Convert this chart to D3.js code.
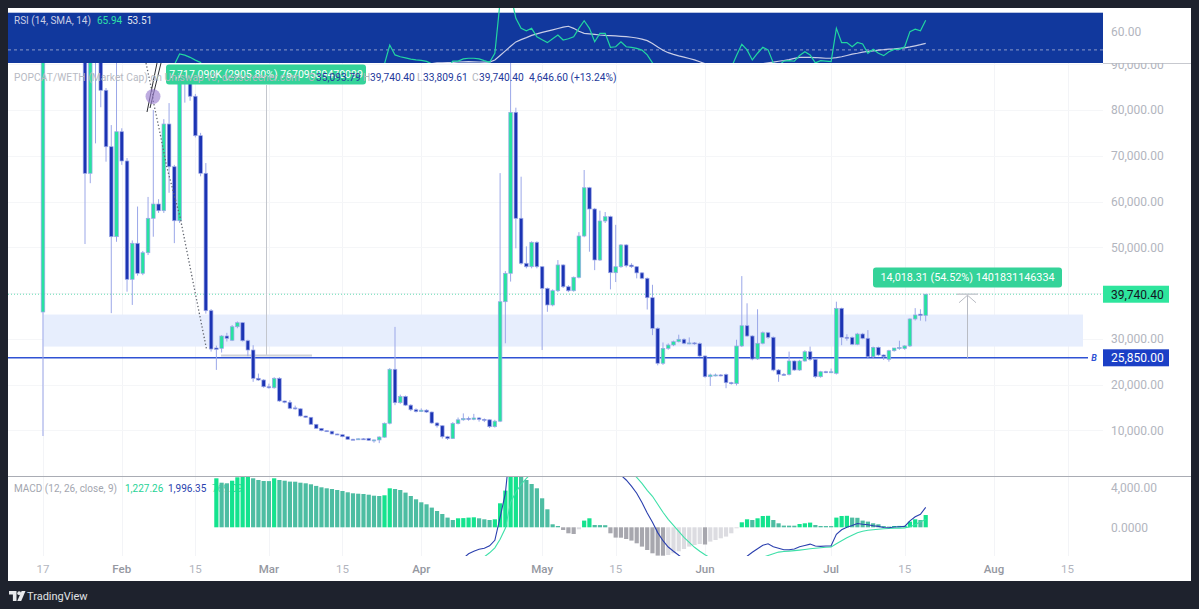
<!DOCTYPE html>
<html><head><meta charset="utf-8">
<script src="https://cdn.jsdelivr.net/npm/d3@7"></script>
<style>
body{margin:0;background:#1e222d;overflow:hidden}
svg{display:block}
text{font-family:Roboto,"Noto Sans",sans-serif}
</style></head>
<body><svg id="c" width="1199" height="609"></svg>
<script>
// ---------------- DATA ----------------
const opens = [
35860,105000,125000,118000,130000,140000,120000,110000,100000,66160,
95000,98000,84300,71970,52310,75250,68850,43000,50870,44310,
48810,56330,59450,57990,76930,67600,55800,86000,88000,83000,
74380,66160,36140,28000,27920,30610,29680,32640,33520,29580,
27550,21370,21000,19530,19300,21370,16410,16130,14900,14700,
13130,12850,11320,10440,9920,9800,9200,9050,8610,8050,
8000,8150,8250,7820,7900,8500,11540,23340,16040,17400,
15500,14500,14100,14400,14000,11600,11000,8600,8200,11500,
12300,12600,12400,12700,12400,12300,10800,12000,38100,44310,
79490,56330,46500,45750,51090,45750,41030,37390,40510,46130,
41380,40500,43440,52460,63010,58360,47220,55740,56680,44440,
45750,50500,46100,45750,44400,43220,38980,32290,24650,27920,
28650,29370,29890,29020,29100,28950,26240,21720,22000,22100,
22200,20410,20200,28430,32860,30610,25590,29020,31330,30330,
23180,22240,22200,25150,23180,25150,27180,25520,21720,22810,
22700,22460,36660,30330,30300,28800,31050,30110,26090,28140,
26460,25520,27400,27990,27860,28450,34330,35380,35093.79];
const closes = [
105000,125000,118000,130000,140000,120000,110000,100000,66160,95000,
98000,84300,71970,52310,75250,68850,43000,50870,44310,48810,
56330,59450,57990,76930,67600,55800,86000,88000,83000,74380,
66160,36140,27770,27700,30610,30110,32640,33520,29580,27550,
21370,21000,19530,19300,21370,16410,16130,14810,14700,13130,
12850,11320,10440,9920,9800,9200,9050,8610,8040,8000,
8150,8100,7820,7900,8540,11540,23340,16040,17400,15500,
14500,14100,14400,14000,11600,11000,8600,8200,11500,12300,
12600,12400,12700,12400,12300,10800,12000,38100,44310,79490,
56330,46500,45750,51090,45750,41030,37390,40510,46130,41380,
40500,43440,52460,63010,58360,47220,55740,56680,44440,45750,
50500,45970,45750,44400,43220,38980,32290,24650,27920,28650,
29370,29890,29020,29100,28950,26240,21720,22100,22100,22000,
20410,20200,28430,32860,30610,25590,29020,31330,30330,23180,
22240,22200,25150,23180,25150,27180,25520,21720,22810,22700,
22800,36660,30330,30200,28800,31050,30110,26090,28140,26460,
26100,27400,27990,28100,28450,34330,35200,35093.79,39740.40];
const highs = [
120000,140000,150000,135000,160000,150000,130000,125000,105000,100000,
102000,100000,84800,76700,92000,76000,69500,51500,58900,49200,
61000,80000,60500,78000,81500,68000,88000,89500,89000,83500,
75000,68400,36500,28500,30800,31300,33000,33800,33600,29800,
28600,22400,21200,20200,21600,21600,16500,16600,15400,14800,
13200,12900,11400,10500,10000,9900,9300,9100,8700,8150,
8250,8300,8350,8000,8700,11700,23600,32600,17800,17600,
15700,14800,14800,14600,14100,11800,11100,8800,11800,12800,
13700,13000,13600,12900,12600,12400,12300,66200,44800,92000,
80500,65420,50200,51300,51300,45900,41200,40800,47200,46300,
41700,43600,53300,66880,63200,58600,58000,57700,56900,54900,
50700,50700,46500,45900,44600,43400,41800,32500,29200,29000,
29600,30900,30100,30300,29300,29200,26400,22400,22400,22300,
22400,20600,29800,43700,37760,30800,36450,31600,31500,30500,
23400,22500,27200,25300,25400,27500,28300,25700,23000,23000,
23500,38110,36800,31000,30500,31300,31300,31900,28300,28300,
26600,27600,28000,29580,28600,34500,36700,36450,39740.40];
const lows = [
8760,98000,110000,100000,120000,115000,100000,95000,50710,64000,
72700,80600,68700,35600,51200,68000,40300,37400,43800,43900,
48300,52300,57500,57500,61900,50900,55300,81600,82000,74000,
65500,35500,27200,23200,27000,29400,29500,32300,29400,26200,
20600,20800,19300,19100,19100,16200,15900,14600,14500,13000,
12700,11200,10300,9800,9700,9100,8950,8500,7950,7900,
7950,8000,7700,7300,7200,8400,11300,15500,15800,15300,
14200,13900,14000,13800,11400,10600,8200,7900,8100,11300,
12100,12100,12200,11900,11800,10500,10600,11800,29020,42500,
49770,46200,45400,45400,45400,27550,35900,37100,40200,41100,
40200,40300,43200,52200,49030,45000,47000,55300,40800,42400,
45500,45600,45500,43200,43000,36400,30800,24200,24300,27600,
28400,29200,28800,28800,28700,26000,21500,19700,21800,21800,
19200,20000,19800,28200,30400,25300,25400,28800,30000,22900,
20600,22000,22000,23000,23000,25000,25200,21400,21500,22500,
22500,22200,28600,29600,28600,28600,29900,25800,25800,26200,
25390,25000,27200,27600,27600,28200,34000,33960,33809.61];

const rsiValues = [
null,null,null,null,null,null,null,null,null,null,
null,null,null,null,null,null,null,null,null,null,
null,null,null,38,40,42,47.8,47.2,46,44.5,
43.2,38,35,null,null,null,null,null,null,null,
null,null,null,null,null,null,null,null,null,null,
null,null,null,null,null,null,null,null,null,null,
null,null,null,null,38,42.5,52.6,47.3,46.3,45.7,
45,44.6,44.4,43.8,42.5,41,39,40,44,44,
45.2,45.5,45.5,45.2,44.2,43.3,48.2,76,79,80,
67,61.6,60.3,61.6,57.1,55.5,53.9,56,58,55.3,
56,57.1,61.6,65.7,61.6,54.4,58.9,58.9,51.4,51.7,
54.4,51.7,51.4,50.8,49.9,47.3,43,39,null,null,
null,null,null,null,null,null,null,null,null,null,
null,40.5,47,53,50,44.6,48.2,51.4,50,43,
41.5,44,44.2,43.9,47,49,47.3,43,44.2,44,
43.7,61.6,53.9,53.9,51.7,54,53.2,48.2,50.3,48.2,
46.9,49,50.3,50.3,51.7,59.8,61.1,60.3,65.94];
const rsiSmaValues = [
null,null,null,null,null,null,null,null,null,null,
null,null,null,null,null,null,null,null,null,null,
null,null,null,null,null,null,null,null,null,null,
null,null,null,null,null,null,null,null,null,null,
null,null,null,null,null,null,null,null,null,null,
null,null,null,null,null,null,null,null,null,null,
null,null,null,null,null,null,null,null,null,null,
null,null,null,41.5,42.6,43.0,43.1,43.2,43.3,43.5,
43.6,43.7,43.6,43.5,43.4,43.4,44.6,47.0,49.5,52.0,
54.3,55.5,56.6,57.8,58.6,59.4,60.1,60.8,61.5,62.2,
62.7,61.6,60.0,58.9,58.6,58.3,58.0,57.8,57.7,57.5,
57.3,57.1,56.8,56.4,55.8,55.0,53.5,51.5,49.8,48.5,
47.6,46.8,46.1,45.4,44.6,43.6,42.6,41.8,null,null,
null,null,null,null,null,null,42.0,42.6,43.1,43.4,
43.9,44.3,44.8,45.4,46.0,46.0,46.0,45.9,45.7,45.5,
45.5,45.8,46.3,47.0,47.7,48.2,48.8,49.2,49.5,49.9,
50.1,50.4,50.6,50.9,51.1,51.6,52.2,52.8,53.51];

const histStart = 33;
const macdHist = [
4900,4460,4400,4660,5000,5300,5350,4900,4730,4630,
4620,4900,4730,4660,4570,4560,4460,4400,4300,4140,
4000,3900,3830,3730,3630,3500,3400,3360,3330,3260,
3160,3130,3200,3900,3830,3730,3470,3130,2800,2500,
2300,1970,1630,1330,970,730,900,920,970,1000,
900,800,730,800,2400,3670,6000,7200,6800,4730,
4330,3900,2900,1800,300,130,-270,-600,-670,-200,
670,900,230,220,210,-600,-1030,-1040,-1170,-1330,
-1600,-1930,-2270,-2600,-2830,-2840,-2770,-2600,-2400,-2170,
-1930,-1770,-1670,-1720,-1430,-1270,-1100,-930,-600,-100,
500,800,730,900,1130,1150,730,400,170,165,
160,330,400,470,230,130,125,120,970,1130,
1150,970,950,670,570,400,300,130,70,130,
140,150,570,800,730,1227.26];
const lineStart = 79;
const macdLine = [
-3600,-3100,-2650,-2400,-2200,-2100,-1850,-1300,1000,3400,
8500,10500,11100,9600,9700,9800,9200,8500,7600,7300,
7000,6700,6600,6900,7700,8000,7300,7200,7100,6100,
5470,5210,4730,4120,3400,2470,1430,500,-530,-1340,
-1970,-2400,-2800,-3170,-3430,-3800,-4000,-4300,-4300,-4400,
-4300,-4200,-4300,-3800,-3200,-2900,-2500,-2150,-1800,-1650,
-1950,-2100,-2250,-2250,-2170,-1950,-1820,-1680,-1870,-1910,
-1875,-1840,-700,-250,0,180,380,300,260,150,
90,-20,-50,30,60,90,650,1050,1300,1996.35];
const signalLine = [
-4300,-4000,-3650,-3400,-3100,-2950,-2550,-2050,-1200,-100,
2500,3500,4300,4900,5400,5900,6300,6600,6800,6900,
7000,7050,7100,7100,7100,7100,7050,7000,6900,6700,
6500,6250,5900,5450,5000,4400,3700,3100,2300,1500,
800,200,-400,-1000,-1500,-2000,-2400,-2750,-3050,-3300,
-3500,-3600,-3700,-3700,-3700,-3700,-3450,-3150,-3000,-2820,
-2650,-2480,-2420,-2380,-2330,-2280,-2220,-2150,-2100,-2040,
-2000,-1960,-1650,-1350,-1050,-800,-550,-400,-300,-250,
-200,-150,-120,-100,-80,-60,50,250,550,769.09];

const priceTicks = [10000,20000,30000,40000,50000,60000,70000,80000,90000];
const timeTickIdx = [0,15,29,43,57,72,95,109,126,150,164,181,195];
const timeTickLabels = ["17","Feb","15","Mar","15","Apr","May","15","Jun","Jul","15","Aug","15"];
const timeTickMonth = [false,true,false,true,false,true,true,false,true,true,false,true,false];
const lastPrice = 39740.40, levelB = 25850;
const zoneLow = 28300, zoneHigh = 35300;

// ---------------- LAYOUT ----------------
const PL = 8, PR = 1103, AR = 1191;
const rsiTop = 8, rsiBot = 63, pTop = 63, pBot = 476, mTop = 476, mBot = 556, cBot = 581;
const N = closes.length;
const x = d3.scaleLinear().domain([0, N - 1]).range([42.97, 925.7]);
const yP = d3.scaleLinear().domain([0, 90000]).range([476.1, 64.2]);
const yR = d3.scaleLinear().domain([50, 70]).range([49.9, 12.7]);
const yM = d3.scaleLinear().domain([0, 4000]).range([527.3, 487.3]);

const UP = "#27e3a0", DOWN = "#1c34b3", WICK = "#9ba7e8";
const AXC = "#b2b5be";

const svg = d3.select("#c");
svg.append("rect").attr("width", 1199).attr("height", 609).attr("fill", "#1e222d");
svg.append("rect").attr("x", PL).attr("y", 8).attr("width", AR - PL).attr("height", cBot - 8).attr("fill", "#ffffff");

const defs = svg.append("defs");
function clip(id, x0, y0, x1, y1) {
  defs.append("clipPath").attr("id", id).append("rect").attr("x", x0).attr("y", y0).attr("width", x1 - x0).attr("height", y1 - y0);
}
clip("cR", PL, rsiTop, PR, rsiBot);
clip("cP", PL, pTop, PR, pBot);
clip("cM", PL, mTop, PR, mBot);
clip("cPA", PR, pTop, AR, pBot);

// ---------------- GRID ----------------
const grid = svg.append("g");
grid.selectAll("line.vg").data(timeTickIdx).join("line")
  .attr("x1", d => Math.round(x(d)) + 0.5).attr("x2", d => Math.round(x(d)) + 0.5)
  .attr("y1", pTop).attr("y2", mBot).attr("stroke", "#f3f4f7").attr("stroke-width", 1);
grid.selectAll("line.hg").data(priceTicks).join("line")
  .attr("x1", PL).attr("x2", PR).attr("y1", d => Math.round(yP(d)) + 0.5).attr("y2", d => Math.round(yP(d)) + 0.5)
  .attr("stroke", "#f5f6f8");

// ---------------- RSI PANE ----------------
const gR = svg.append("g").attr("clip-path", "url(#cR)");
gR.append("rect").attr("x", PL).attr("y", yR(70)).attr("width", PR - PL).attr("height", rsiBot - yR(70)).attr("fill", "#11389d");
gR.append("line").attr("x1", PL).attr("x2", PR).attr("y1", yR(50)).attr("y2", yR(50))
  .attr("stroke", "#8d9ac9").attr("stroke-dasharray", "3,3").attr("stroke-width", 1);
const lineR = v => d3.line().defined(i => v[i] != null).x(i => x(i)).y(i => yR(v[i]));
gR.append("path").attr("d", lineR(rsiSmaValues)(d3.range(N))).attr("fill", "none").attr("stroke", "#c9cde6").attr("stroke-width", 1.2);
gR.append("path").attr("d", lineR(rsiValues)(d3.range(N))).attr("fill", "none").attr("stroke", "#22d6a0").attr("stroke-width", 1.2);

// ---------------- PRICE PANE ----------------
const gP = svg.append("g").attr("clip-path", "url(#cP)");
gP.append("rect").attr("x", x(0)).attr("y", yP(zoneHigh)).attr("width", 1083 - x(0)).attr("height", yP(zoneLow) - yP(zoneHigh)).attr("fill", "#e7eefd");
gP.append("line").attr("x1", PL).attr("x2", PR).attr("y1", yP(lastPrice)).attr("y2", yP(lastPrice))
  .attr("stroke", "#63dcb2").attr("stroke-dasharray", "1,2").attr("stroke-width", 1);
gP.append("line").attr("x1", 266.5).attr("x2", 266.5).attr("y1", 85).attr("y2", 355.5).attr("stroke", "#c3c6cd").attr("stroke-width", 1);
gP.append("line").attr("x1", 221).attr("x2", 312).attr("y1", 355.5).attr("y2", 355.5).attr("stroke", "#cfd2d8").attr("stroke-width", 2);
gP.append("line").attr("x1", PL).attr("x2", 1088).attr("y1", yP(levelB)).attr("y2", yP(levelB)).attr("stroke", "#2f52d4").attr("stroke-width", 1.6);

// candles
const gc = gP.append("g");
const idx = d3.range(N);
gc.selectAll("line.w").data(idx).join("line")
  .attr("x1", i => x(i)).attr("x2", i => x(i)).attr("y1", i => yP(highs[i])).attr("y2", i => yP(lows[i]))
  .attr("stroke", WICK).attr("stroke-width", 1);
gc.selectAll("rect.b").data(idx).join("rect")
  .attr("x", i => x(i) - 1.8).attr("width", 3.6)
  .attr("y", i => yP(Math.max(opens[i], closes[i])))
  .attr("height", i => Math.max(1, Math.abs(yP(opens[i]) - yP(closes[i]))))
  .attr("fill", i => closes[i] >= opens[i] ? UP : DOWN)
  .attr("stroke", WICK).attr("stroke-width", 0.7);

// drawing annotations
gP.append("path").attr("d", d3.line()([[146,63],[153,96],[153,100],[160,133],[166.7,166.7],[180,216.7],[190,266.7],[200,316.7],[206.7,350]]))
  .attr("fill", "none").attr("stroke", "#60646e").attr("stroke-width", 1.3).attr("stroke-dasharray", "1.3,2.2");
gP.append("line").attr("x1", 147).attr("y1", 112).attr("x2", 157).attr("y2", 63).attr("stroke", "#2b2d33").attr("stroke-width", 1);
gP.append("line").attr("x1", 150).attr("y1", 108).attr("x2", 161).attr("y2", 63).attr("stroke", "#2b2d33").attr("stroke-width", 1);
gP.append("circle").attr("cx", 153).attr("cy", 96.5).attr("r", 7.5).attr("fill", "#9b7fd0").attr("fill-opacity", 0.65);

// measure tool 2
gP.append("line").attr("x1", 967.5).attr("x2", 967.5).attr("y1", yP(levelB)).attr("y2", yP(lastPrice) + 1).attr("stroke", "#b9bcc4");
gP.append("line").attr("x1", 957).attr("x2", 978).attr("y1", yP(lastPrice)).attr("y2", yP(lastPrice)).attr("stroke", "#c9ccd2").attr("stroke-width", 1.5);
gP.append("path").attr("d", `M959,${yP(lastPrice)+8.5}L967.5,${yP(lastPrice)+1}L976,${yP(lastPrice)+8.5}`).attr("fill", "none").attr("stroke", "#b9bcc4");

function tag(g, cx, y, w, h, txt, fill, col, fs) {
  g.append("rect").attr("x", cx - w / 2).attr("y", y).attr("width", w).attr("height", h).attr("rx", 3).attr("fill", fill);
  g.append("text").attr("x", cx).attr("y", y + h / 2).attr("dy", "0.36em").attr("text-anchor", "middle")
    .attr("fill", col).attr("font-size", fs).text(txt);
}
tag(gP, 266, 64.5, 200, 20, "7,717.090K (2905.80%) 76709589470099", "#34d399", "#ffffff", 10.5);
tag(gP, 967.5, 267.5, 189, 20, "14,018.31 (54.52%) 1401831146334", "#34d399", "#ffffff", 10.8);

// ---------------- MACD PANE ----------------
svg.append("text").attr("x", 14).attr("y", 492).attr("font-size", 10).attr("fill", "#a3a6af").text("MACD (12, 26, close, 9)");
svg.append("text").attr("x", 125).attr("y", 492).attr("font-size", 10).attr("fill", "#1fd396").text("1,227.26");
svg.append("text").attr("x", 168).attr("y", 492).attr("font-size", 10).attr("fill", "#2a3fae").text("1,996.35");
svg.append("text").attr("x", 212).attr("y", 492).attr("font-size", 10).attr("fill", "#46d8a8").text("769.09");
const gMb = svg.append("g").attr("clip-path", "url(#cM)");
const hIdx = d3.range(macdHist.length);
function histColor(k) {
  const v = macdHist[k], p = k > 0 ? macdHist[k - 1] : v;
  if (v >= 0) return v >= p ? "#14e38e" : "#4dbda2";
  return v <= p ? "#a7a7ae" : "#dcdce1";
}
gMb.selectAll("rect.h").data(hIdx).join("rect")
  .attr("x", k => x(k + histStart) - 2.1).attr("width", 4.2)
  .attr("y", k => Math.min(yM(0), yM(macdHist[k])))
  .attr("height", k => Math.abs(yM(macdHist[k]) - yM(0)))
  .attr("fill", k => histColor(k));
const lineM = v => d3.line().defined(k => v[k] != null).x(k => x(k + lineStart)).y(k => yM(v[k]));
gMb.append("path").attr("d", lineM(signalLine)(d3.range(signalLine.length))).attr("fill", "none").attr("stroke", "#3ee0a8").attr("stroke-width", 1.1);
gMb.append("path").attr("d", lineM(macdLine)(d3.range(macdLine.length))).attr("fill", "none").attr("stroke", "#2a3fae").attr("stroke-width", 1.1);

// ---------------- SEPARATORS ----------------
svg.append("line").attr("x1", PR).attr("x2", AR).attr("y1", 63.5).attr("y2", 63.5).attr("stroke", "#c7c9cf");
svg.append("line").attr("x1", PL).attr("x2", AR).attr("y1", 476.5).attr("y2", 476.5).attr("stroke", "#a9acb4");

// ---------------- AXES ----------------
const gPA = svg.append("g").attr("clip-path", "url(#cPA)");
gPA.selectAll("text").data(priceTicks).join("text")
  .attr("x", 1111).attr("y", d => yP(d)).attr("dy", "0.36em").attr("font-size", 12).attr("fill", AXC)
  .text(d => d3.format(",.2f")(d));
svg.append("text").attr("x", 1111).attr("y", yR(60)).attr("dy", "0.36em").attr("font-size", 12).attr("fill", AXC).text("60.00");
svg.append("text").attr("x", 1111).attr("y", yM(4000)).attr("dy", "0.36em").attr("font-size", 12).attr("fill", AXC).text("4,000.00");
svg.append("text").attr("x", 1111).attr("y", yM(0)).attr("dy", "0.36em").attr("font-size", 12).attr("fill", AXC).text("0.0000");

svg.append("rect").attr("x", PR).attr("y", yP(lastPrice) - 8.5).attr("width", 66).attr("height", 17).attr("fill", "#2ee59d");
svg.append("text").attr("x", 1111).attr("y", yP(lastPrice)).attr("dy", "0.36em").attr("font-size", 12).attr("fill", "#131722").text(d3.format(",.2f")(lastPrice));
svg.append("rect").attr("x", PR).attr("y", yP(levelB) - 8.5).attr("width", 66).attr("height", 17).attr("fill", "#1b3fc6");
svg.append("text").attr("x", 1111).attr("y", yP(levelB)).attr("dy", "0.36em").attr("font-size", 12).attr("fill", "#ffffff").text(d3.format(",.2f")(levelB));
svg.append("text").attr("x", 1094).attr("y", yP(levelB)).attr("dy", "0.36em").attr("text-anchor", "middle").attr("font-size", 9)
  .attr("font-style", "italic").attr("font-weight", "bold").attr("fill", "#2f52d4").text("B");

svg.selectAll("text.t").data(timeTickIdx).join("text")
  .attr("x", d => x(d)).attr("y", 573).attr("text-anchor", "middle").attr("font-size", 11.5)
  .attr("font-weight", (d, k) => timeTickMonth[k] ? 500 : 400)
  .attr("fill", (d, k) => timeTickMonth[k] ? "#9598a1" : "#b2b5be")
  .text((d, k) => timeTickLabels[k]);

// ---------------- LEGENDS ----------------
svg.append("text").attr("x", 14).attr("y", 24).attr("font-size", 10).attr("fill", "#c9cde4").text("RSI (14, SMA, 14)");
svg.append("text").attr("x", 97).attr("y", 24).attr("font-size", 10).attr("fill", "#2fe0a6").text("65.94");
svg.append("text").attr("x", 127).attr("y", 24).attr("font-size", 10).attr("fill", "#e3e6ef").text("53.51");

const H = svg.append("g").attr("font-size", 10.2);
H.append("text").attr("x", 14).attr("y", 81).attr("fill", "#b7bac3").attr("textLength", 286).attr("lengthAdjust", "spacing")
  .text("POPCAT/WETH (Market Cap) on Uniswap v3, dexscreener.com");
const hdr = [[308, "O", "#b2b5be"], [316, "35,093.79", "#24399b"], [363, "H", "#b2b5be"], [370, "39,740.40", "#24399b"],
  [417, "L", "#b2b5be"], [423, "33,809.61", "#24399b"], [472, "C", "#b2b5be"], [479, "39,740.40", "#24399b"],
  [529, "4,646.60 (+13.24%)", "#24399b"]];
H.selectAll("text.h").data(hdr).join("text").attr("x", d => d[0]).attr("y", 81).attr("fill", d => d[2]).text(d => d[1]);

// ---------------- FOOTER ----------------
const F = svg.append("g").attr("fill", "#e8e9ec");
F.append("path").attr("d", "M9,591h7.5v10h-3.6v-6.6H9z");
F.append("circle").attr("cx", 19.2).attr("cy", 593.2).attr("r", 1.9);
F.append("path").attr("d", "M21.6,591h3.9l-4.3,10h-3.9z");
svg.append("text").attr("x", 27).attr("y", 600).attr("font-size", 11).attr("fill", "#e0e2e6").text("TradingView");
</script>
</body></html>
